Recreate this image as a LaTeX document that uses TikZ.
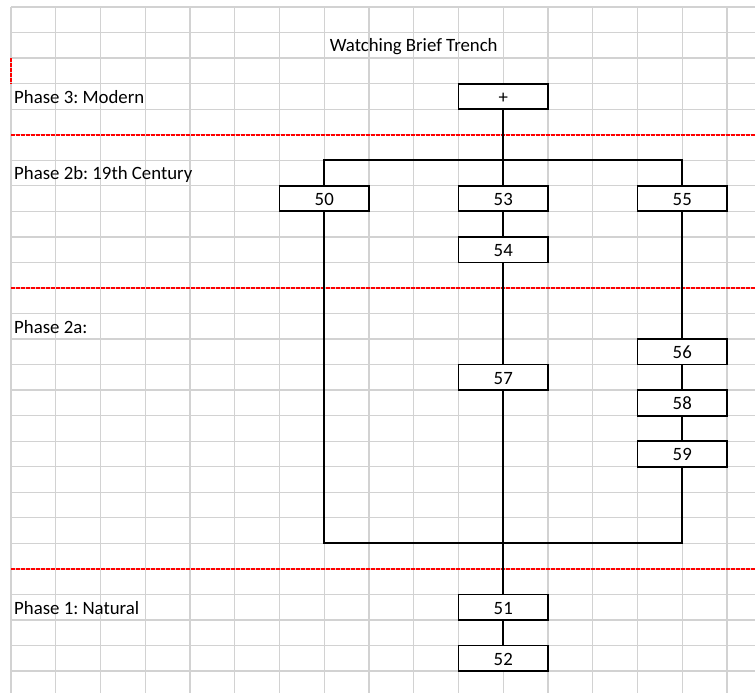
\documentclass[tikz,border=0pt]{standalone}
\usepackage{fontspec}
\setmainfont{Carlito}
\definecolor{gridgrey}{RGB}{210,210,210}
\newcommand\lblfont{\fontsize{18.8}{22}\selectfont\frenchspacing}
\begin{document}
\begin{tikzpicture}[x=44.75pt,y=-25.54pt,
  gridline/.style={draw=gridgrey,line width=1.3pt},
  breakline/.style={draw=red,line width=1.9pt,dash pattern=on 4pt off 1pt},
  box/.style={draw=black,fill=white,line width=1.8pt,minimum width=89.5pt,minimum height=25.54pt,inner sep=0pt,text height=13.9pt,text depth=0pt,font=\lblfont},
  conn/.style={draw=black,line width=1.8pt},
  lbl/.style={anchor=base west,inner sep=0pt,font=\lblfont}]
\useasboundingbox (-0.2458,-0.2741) rectangle (16.6257,26.8598);
\fill[white] (-0.2458,-0.2741) rectangle (16.6257,26.8598);
% spreadsheet grid
\foreach \i in {0,...,16} \draw[gridline] (\i,0) -- (\i,26.8598);
\foreach \j in {0,...,26} \draw[gridline] (0,\j) -- (16.6257,\j);
% page-break style red lines
\foreach \j in {5,11,22} \draw[breakline] (0,\j) -- (16.6257,\j);
\draw[breakline] (0,2) -- (0,3);
% texts
\node[anchor=base,inner sep=0pt,font=\lblfont] (title) at (9,1.76) {Watching Brief Trench};
\node[lbl] (ph3) at (0.067,3.772) {Phase 3: Modern};
\node[lbl] (ph2b) at (0.067,6.772) {Phase 2b: 19th Century};
\node[lbl] (ph2a) at (0.067,12.772) {Phase 2a:};
\node[lbl] (ph1) at (0.067,23.772) {Phase 1: Natural};
% boxes
\node[box] (plus) at (11,3.5) {+};
\node[box] (b50) at (7,7.5) {50};
\node[box] (b53) at (11,7.5) {53};
\node[box] (b55) at (15,7.5) {55};
\node[box] (b54) at (11,9.5) {54};
\node[box] (b56) at (15,13.5) {56};
\node[box] (b57) at (11,14.5) {57};
\node[box] (b58) at (15,15.5) {58};
\node[box] (b59) at (15,17.5) {59};
\node[box] (b51) at (11,23.5) {51};
\node[box] (b52) at (11,25.5) {52};
% junction coordinates
\coordinate (barL) at (7,6);
\coordinate (barR) at (15,6);
\coordinate (botL) at (7,21);
\coordinate (botR) at (15,21);
% connectors
\draw[conn] (plus.south) -- (b53.north);
\draw[conn] (b50.north) -- (barL) -- (barR) -- (b55.north);
\draw[conn] (b53) -- (b54);
\draw[conn] (b54) -- (b57);
\draw[conn] (b55) -- (b56);
\draw[conn] (b56) -- (b58);
\draw[conn] (b58) -- (b59);
\draw[conn] (b50.south) -- (botL) -- (botR) -- (b59.south);
\draw[conn] (b57.south) -- (b51.north);
\draw[conn] (b51) -- (b52);
\end{tikzpicture}
\end{document}
